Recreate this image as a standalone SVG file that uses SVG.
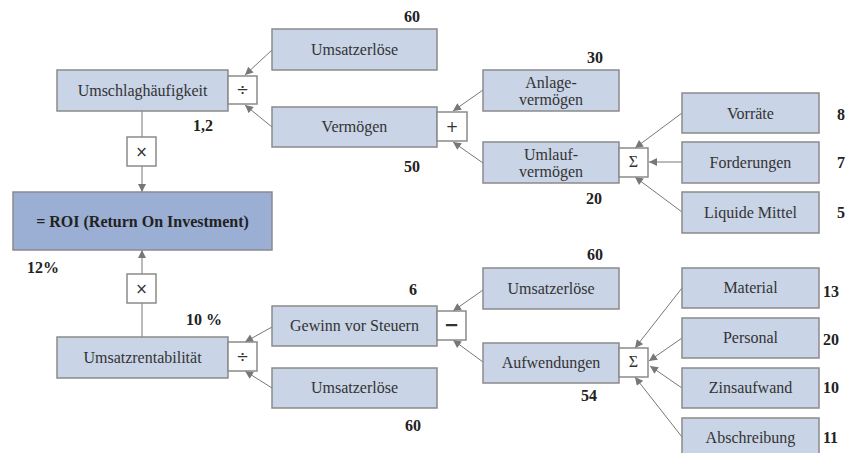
<svg xmlns="http://www.w3.org/2000/svg" width="846" height="453" viewBox="0 0 846 453">
<style>
.b{fill:#c9d4e7;stroke:#8a8a8a;stroke-width:1.5}
.r{fill:#9bafd5;stroke:#8a8a8a;stroke-width:1.5}
.o{fill:#fff;stroke:#8a8a8a;stroke-width:1.5}
.t{font-size:16px;fill:#333}
.c{text-anchor:middle}
.n{font-weight:bold;fill:#222}
.op{text-anchor:middle;font-size:15px;fill:#333}
.e{stroke:#777;stroke-width:1;fill:none}
</style>
<defs>
<marker id="a" viewBox="0 0 10 10" refX="10" refY="5" markerWidth="9" markerHeight="8" markerUnits="userSpaceOnUse" orient="auto">
<path d="M0,0 L10,5 L0,10 z" fill="#777"/>
</marker>
</defs>
<g id="connectors">
<path class="e" d="M272,50 L245,75" marker-end="url(#a)"/>
<path class="e" d="M272,127 L245,105" marker-end="url(#a)"/>
<path class="e" d="M483,90 L453,111" marker-end="url(#a)"/>
<path class="e" d="M483,163 L453,142" marker-end="url(#a)"/>
<path class="e" d="M682,113 L635,148" marker-end="url(#a)"/>
<path class="e" d="M682,162 L649,162" marker-end="url(#a)"/>
<path class="e" d="M682,212 L635,177" marker-end="url(#a)"/>
<path class="e" d="M142,111 L142,137"/>
<path class="e" d="M142,166 L142,192" marker-end="url(#a)"/>
<path class="e" d="M142,274 L142,250" marker-end="url(#a)"/>
<path class="e" d="M142,337 L142,303"/>
<path class="e" d="M272,327 L245,342" marker-end="url(#a)"/>
<path class="e" d="M272,388 L245,371" marker-end="url(#a)"/>
<path class="e" d="M483,290 L453,311" marker-end="url(#a)"/>
<path class="e" d="M483,362 L453,340" marker-end="url(#a)"/>
<path class="e" d="M682,288 L635,348" marker-end="url(#a)"/>
<path class="e" d="M682,338 L649,361" marker-end="url(#a)"/>
<path class="e" d="M682,388 L650,366" marker-end="url(#a)"/>
<path class="e" d="M682,437 L635,377" marker-end="url(#a)"/>
</g>
<g font-family="Liberation Serif, Tinos, Times New Roman, serif">
<g id="umschlag"><rect class="b" x="57" y="70" width="171" height="41"/><text class="t c" x="142.5" y="96">Umschlaghäufigkeit</text></g>
<g id="op-div1"><rect class="o" x="228" y="76" width="29" height="28"/><text class="op" x="242.5" y="95" font-family="DejaVu Sans, sans-serif">÷</text></g>
<g id="umsatz1"><rect class="b" x="272" y="29" width="165" height="41"/><text class="t c" x="354.5" y="55">Umsatzerlöse</text></g>
<g id="vermoegen"><rect class="b" x="272" y="107" width="165" height="40"/><text class="t c" x="354.5" y="132">Vermögen</text></g>
<g id="op-plus"><rect class="o" x="437" y="112" width="30" height="29"/><text class="op" x="452" y="132" font-family="DejaVu Sans, sans-serif">+</text></g>
<g id="anlage"><rect class="b" x="483" y="70" width="136" height="41"/><text class="t c" x="551" y="88">Anlage-</text><text class="t c" x="551" y="105">vermögen</text></g>
<g id="umlauf"><rect class="b" x="483" y="142" width="136" height="41"/><text class="t c" x="551" y="160">Umlauf-</text><text class="t c" x="551" y="177">vermögen</text></g>
<g id="op-sum1"><rect class="o" x="619" y="148" width="29" height="29"/><text class="t c" x="633.5" y="167">Σ</text></g>
<g id="vorraete"><rect class="b" x="682" y="93" width="137" height="40"/><text class="t c" x="750.5" y="119">Vorräte</text></g>
<g id="forderungen"><rect class="b" x="682" y="142" width="137" height="41"/><text class="t c" x="750.5" y="168">Forderungen</text></g>
<g id="liquide"><rect class="b" x="682" y="192" width="137" height="41"/><text class="t c" x="750.5" y="218">Liquide Mittel</text></g>
<g id="op-mul1"><rect class="o" x="127" y="137" width="29" height="29"/><text class="op" x="141.5" y="157" font-family="DejaVu Sans, sans-serif">×</text></g>
<g id="roi"><rect class="r" x="13" y="192" width="259" height="58"/><text class="t c n" x="142.5" y="227">= ROI (Return On Investment)</text></g>
<g id="op-mul2"><rect class="o" x="127" y="274" width="29" height="29"/><text class="op" x="141.5" y="294" font-family="DejaVu Sans, sans-serif">×</text></g>
<g id="rentab"><rect class="b" x="57" y="337" width="171" height="41"/><text class="t c" x="142.5" y="363">Umsatzrentabilität</text></g>
<g id="op-div2"><rect class="o" x="228" y="342" width="29" height="29"/><text class="op" x="242.5" y="362" font-family="DejaVu Sans, sans-serif">÷</text></g>
<g id="gewinn"><rect class="b" x="272" y="306" width="165" height="40"/><text class="t c" x="354.5" y="331">Gewinn vor Steuern</text></g>
<g id="umsatz2"><rect class="b" x="272" y="368" width="165" height="40"/><text class="t c" x="354.5" y="393">Umsatzerlöse</text></g>
<g id="op-minus"><rect class="o" x="437" y="311" width="29" height="29"/><text class="op" x="451.5" y="331" font-family="DejaVu Sans, sans-serif" style="font-weight:bold;font-size:18px">−</text></g>
<g id="umsatz3"><rect class="b" x="483" y="268" width="136" height="41"/><text class="t c" x="551" y="294">Umsatzerlöse</text></g>
<g id="aufwendungen"><rect class="b" x="483" y="343" width="136" height="40"/><text class="t c" x="551" y="368">Aufwendungen</text></g>
<g id="op-sum2"><rect class="o" x="619" y="348" width="29" height="29"/><text class="t c" x="633.5" y="367">Σ</text></g>
<g id="material"><rect class="b" x="682" y="268" width="137" height="40"/><text class="t c" x="750.5" y="293">Material</text></g>
<g id="personal"><rect class="b" x="682" y="318" width="137" height="40"/><text class="t c" x="750.5" y="343">Personal</text></g>
<g id="zins"><rect class="b" x="682" y="368" width="137" height="40"/><text class="t c" x="750.5" y="393">Zinsaufwand</text></g>
<g id="abschreibung"><rect class="b" x="682" y="418" width="137" height="40"/><text class="t c" x="750.5" y="443">Abschreibung</text></g>
<g id="values">
<text class="t n" x="404" y="22">60</text>
<text class="t n" x="193" y="131">1,2</text>
<text class="t n" x="404" y="172">50</text>
<text class="t n" x="587" y="63">30</text>
<text class="t n" x="586" y="204">20</text>
<text class="t n" x="837" y="120">8</text>
<text class="t n" x="837" y="168">7</text>
<text class="t n" x="837" y="218">5</text>
<text class="t n" x="27" y="273">12%</text>
<text class="t n" x="186" y="325">10 %</text>
<text class="t n" x="409" y="295">6</text>
<text class="t n" x="587" y="260">60</text>
<text class="t n" x="581" y="401">54</text>
<text class="t n" x="405" y="431">60</text>
<text class="t n" x="823" y="297">13</text>
<text class="t n" x="823" y="345">20</text>
<text class="t n" x="823" y="393">10</text>
<text class="t n" x="823" y="443">11</text>
</g>
</g>
</svg>
